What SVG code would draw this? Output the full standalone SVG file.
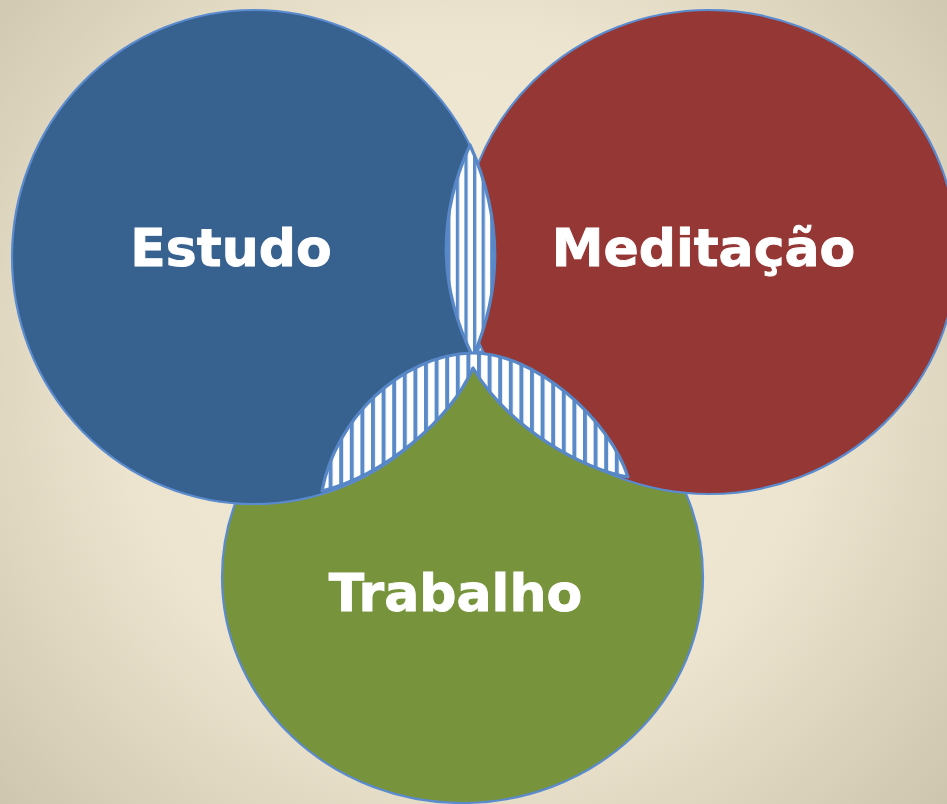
<svg xmlns="http://www.w3.org/2000/svg" width="947" height="804" viewBox="0 0 947 804">
<defs>
<radialGradient id="bg" gradientUnits="userSpaceOnUse" cx="470" cy="380" r="640">
<stop offset="0" stop-color="#f3ecd8"/>
<stop offset="0.55" stop-color="#ece4ce"/>
<stop offset="1" stop-color="#cec5ae"/>
</radialGradient>
<pattern id="stripesA" patternUnits="userSpaceOnUse" x="0" y="0" width="10.6" height="20">
<rect width="10.6" height="20" fill="#ffffff"/>
<rect x="0" width="4" height="20" fill="#5a8ac8"/>
</pattern>
<pattern id="stripesB" patternUnits="userSpaceOnUse" x="0" y="0" width="8.6" height="20">
<rect width="8.6" height="20" fill="#ffffff"/>
<rect x="0" width="3.3" height="20" fill="#5a8ac8"/>
</pattern>
<style>
.circ{stroke:#5b8bcf;stroke-width:2.2}
.hatch{stroke:#5787c7;stroke-width:3.2;stroke-linejoin:round}
.lbl{font-family:"DejaVu Sans","Liberation Sans",sans-serif;font-weight:bold;font-size:52px;fill:#ffffff;stroke:#ffffff;stroke-width:0.9;text-anchor:middle}
</style>
</defs>
<rect width="947" height="804" fill="url(#bg)"/>
<g id="trabalho">
<ellipse class="circ" cx="462.5" cy="577" rx="240.5" ry="226" fill="#77933c"/>
</g>
<g id="estudo">
<ellipse class="circ" cx="254" cy="257" rx="242" ry="247" fill="#37618f"/>
</g>
<g id="meditacao">
<ellipse class="circ" cx="709" cy="252" rx="248" ry="242" fill="#943735"/>
</g>
<g id="overlap-estudo-meditacao">
<path class="hatch" fill="url(#stripesB)" d="M470,145 Q421,252 473,357 Q518,252 470,145 Z"/>
</g>
<g id="overlap-trabalho">
<path class="hatch" fill="url(#stripesA)" d="M322,491 C335,420 400,355 472,353 C535,352 610,420 628,477 C585,470 510,430 473,368 C450,420 385,475 322,491 Z"/>
</g>
<g id="labels">
<text class="lbl" x="231" y="266">Estudo</text>
<text class="lbl" x="703.5" y="266">Meditação</text>
<text class="lbl" x="455.5" y="611">Trabalho</text>
</g>
<g id="connectors"/>
</svg>
